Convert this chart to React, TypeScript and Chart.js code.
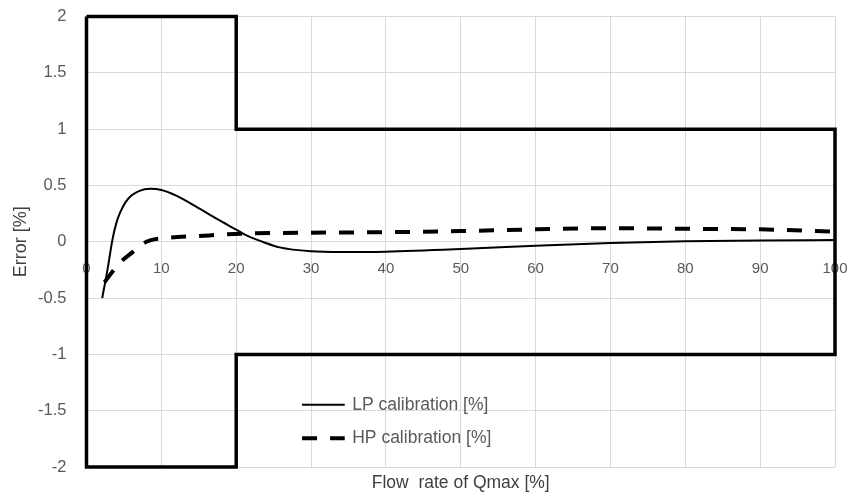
import React, { useEffect, useRef } from "react";
import { Chart, registerables } from "chart.js";

Chart.register(...registerables);

// ---- data ----
const lpFlow = [2.1, 2.8, 3.5, 4.0, 4.5, 5.2, 6.0, 7.0, 8.5, 10, 12, 14.7, 17.5, 20, 21.3, 23.5, 25.8, 30, 34, 40, 50, 60, 70, 80, 90, 100];
const lpError = [-0.5, -0.25, 0.03, 0.17, 0.26, 0.35, 0.41, 0.45, 0.47, 0.46, 0.41, 0.31, 0.2, 0.107, 0.058, 0, -0.05, -0.085, -0.092, -0.088, -0.065, -0.035, -0.01, 0.005, 0.012, 0.015];

const hpFlow = [2.4, 4.4, 6.2, 8, 10.7, 14.7, 21.3, 30, 40, 50, 60, 70, 80, 90, 100];
const hpError = [-0.36, -0.19, -0.09, 0, 0.034, 0.05, 0.073, 0.08, 0.085, 0.095, 0.11, 0.12, 0.115, 0.11, 0.09];

const limitFlow = [0, 20, 20, 100, 100, 20, 20, 0, 0];
const limitError = [2, 2, 1, 1, -1, -1, -2, -2, 2];

const seriesLabels = ["LP calibration [%]", "HP calibration [%]"];
const xTitle = "Flow  rate of Qmax [%]";
const yTitle = "Error [%]";
const xMin = 0, xMax = 100, xStep = 10;
const yMin = -2, yMax = 2, yStep = 0.5;

const FONT = "'Liberation Sans', Arial, sans-serif";
const GRID = "#d9d9d9";
const TICK_COLOR = "#595959";
const TITLE_COLOR = "#404040";

const toPoints = (xs: number[], ys: number[]) => xs.map((x, i) => ({ x, y: ys[i] }));

const zeroPad = (s: any) => {
  s.paddingLeft = 0;
  s.paddingRight = 0;
  s.paddingTop = 0;
  s.paddingBottom = 0;
};

const legendPlugin = {
  id: "insideLegend",
  afterDraw(chart: any) {
    const { ctx, chartArea } = chart;
    const w = chartArea.right - chartArea.left;
    const h = chartArea.bottom - chartArea.top;
    const x1 = chartArea.left + 0.288 * w;
    const x2 = chartArea.left + 0.345 * w;
    const tx = chartArea.left + 0.355 * w;
    const rows = [0.862, 0.936];
    ctx.save();
    rows.forEach((r, i) => {
      const ds = chart.data.datasets[i];
      const y = chartArea.top + r * h;
      ctx.beginPath();
      ctx.strokeStyle = ds.borderColor;
      ctx.lineWidth = ds.borderWidth;
      ctx.setLineDash(ds.borderDash || []);
      ctx.lineCap = "butt";
      ctx.moveTo(x1, y);
      ctx.lineTo(x2, y);
      ctx.stroke();
      ctx.setLineDash([]);
      ctx.fillStyle = TICK_COLOR;
      ctx.font = `17.5px ${FONT}`;
      ctx.textAlign = "left";
      ctx.textBaseline = "middle";
      ctx.fillText(seriesLabels[i], tx, y);
    });
    ctx.restore();
  },
};

export default function App() {
  const ref = useRef<HTMLCanvasElement | null>(null);

  useEffect(() => {
    if (!ref.current) return;
    const chart = new Chart(ref.current, {
      type: "line",
      data: {
        datasets: [
          {
            label: seriesLabels[0],
            data: toPoints(lpFlow, lpError),
            borderColor: "#000000",
            borderWidth: 2,
            pointRadius: 0,
            cubicInterpolationMode: "monotone",
            fill: false,
          },
          {
            label: seriesLabels[1],
            data: toPoints(hpFlow, hpError),
            borderColor: "#000000",
            borderWidth: 4,
            borderDash: [15, 13],
            pointRadius: 0,
            cubicInterpolationMode: "monotone",
            fill: false,
          },
          {
            label: "limits",
            data: toPoints(limitFlow, limitError),
            borderColor: "#000000",
            borderWidth: 3.5,
            pointRadius: 0,
            tension: 0,
            fill: false,
            clip: false as any,
            borderJoinStyle: "miter",
          },
        ],
      },
      options: {
        animation: false,
        responsive: true,
        maintainAspectRatio: false,
        layout: { padding: { top: 16.5, right: 16, left: 0, bottom: 0 } },
        plugins: {
          legend: { display: false },
          tooltip: { enabled: false },
        },
        scales: {
          x: {
            type: "linear",
            position: "bottom",
            min: xMin,
            max: xMax,
            ticks: { stepSize: xStep, display: false },
            grid: { color: GRID, lineWidth: 1, drawTicks: false },
            border: { display: false },
            title: {
              display: true,
              text: xTitle,
              color: TITLE_COLOR,
              font: { family: FONT, size: 17.5 },
              padding: { top: 0, bottom: -1 },
            },
            afterFit: (s: any) => {
              s.height = 26;
              zeroPad(s);
            },
          },
          x2: {
            type: "linear",
            axis: "x",
            position: { y: 0 } as any,
            min: xMin,
            max: xMax,
            ticks: {
              stepSize: xStep,
              color: TICK_COLOR,
              font: { family: FONT, size: 15 },
              padding: 18,
              maxRotation: 0,
            },
            grid: { display: false, drawTicks: false },
            border: { display: false },
            afterFit: (s: any) => {
              s.height = 0;
              zeroPad(s);
            },
          },
          y: {
            type: "linear",
            min: yMin,
            max: yMax,
            ticks: {
              stepSize: yStep,
              color: TICK_COLOR,
              font: { family: FONT, size: 16.5 },
              padding: 20,
              callback: (v: any) => `${v}`,
            },
            grid: { color: GRID, lineWidth: 1, drawTicks: false },
            border: { display: false },
            title: {
              display: true,
              text: yTitle,
              color: TITLE_COLOR,
              font: { family: FONT, size: 18 },
              padding: { top: 10, bottom: 0 },
            },
            afterFit: (s: any) => {
              s.width = 86.5;
              zeroPad(s);
            },
          },
        },
      } as any,
      plugins: [legendPlugin],
    });
    return () => chart.destroy();
  }, []);

  return (
    <div style={{ position: "absolute", left: 0, top: 0, width: 851, height: 493, background: "#ffffff" }}>
      <canvas ref={ref} />
    </div>
  );
}
